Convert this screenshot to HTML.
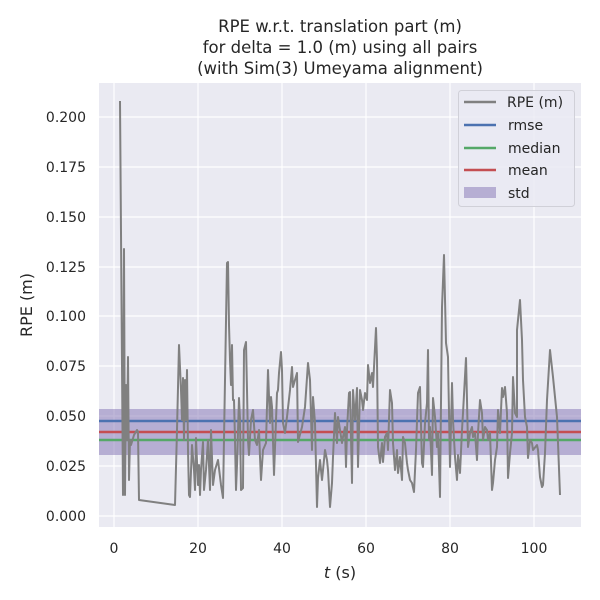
<!DOCTYPE html>
<html><head><meta charset="utf-8"><style>body{margin:0;background:#fff}svg{display:block;font-family:"DejaVu Sans","Liberation Sans",sans-serif}</style></head><body>
<svg width="600" height="600" viewBox="0 0 600 600">
<rect x="99" y="83" width="482" height="444" fill="#eaeaf2"/>
<g stroke="#fff" stroke-width="1.2">
<line x1="114" y1="83" x2="114" y2="527"/><line x1="198" y1="83" x2="198" y2="527"/><line x1="282" y1="83" x2="282" y2="527"/><line x1="366" y1="83" x2="366" y2="527"/><line x1="450" y1="83" x2="450" y2="527"/><line x1="534" y1="83" x2="534" y2="527"/>
<line x1="99" y1="117" x2="581" y2="117"/><line x1="99" y1="167" x2="581" y2="167"/><line x1="99" y1="217" x2="581" y2="217"/><line x1="99" y1="267" x2="581" y2="267"/><line x1="99" y1="316" x2="581" y2="316"/><line x1="99" y1="366" x2="581" y2="366"/><line x1="99" y1="416" x2="581" y2="416"/><line x1="99" y1="466" x2="581" y2="466"/><line x1="99" y1="516" x2="581" y2="516"/>
</g>
<rect x="99" y="409" width="482" height="46" fill="#8172b3" fill-opacity="0.5"/>
<line x1="99" y1="421" x2="581" y2="421" stroke="#4c72b0" stroke-width="2.5"/>
<line x1="99" y1="432" x2="581" y2="432" stroke="#c44e52" stroke-width="2.5"/>
<line x1="99" y1="440" x2="581" y2="440" stroke="#55a868" stroke-width="2.5"/>
<polyline fill="none" stroke="#808080" stroke-width="2" stroke-linejoin="round" points="120,101 123,495 124,249 125,495 126,385 127,440 128,357 129,480 130,440 131,445 134,435 137,430 138,432 139,500 175,505 177,430 179,345 181,390 182,420 183,378 184,440 185,380 186,420 187,370 188,450 189,495 190,497 192,445 194,470 195,490 196,438 198,485 199,465 200,495 201,470 203,442 204,490 206,470 208,440 210,490 211,430 213,485 215,470 218,460 221,485 223,498 225,380 227,263 228,262 229,325 230,360 231,385 232,345 233,400 234,400 235,440 236,490 237,465 239,398 240,420 241,490 243,488 244,350 246,342 247,390 248,440 249,455 251,420 253,410 255,440 257,445 259,430 260,457 261,480 263,450 266,443 268,370 270,423 271,397 272,407 274,475 277,393 278,390 279,373 281,352 282,370 283,423 285,433 287,417 290,390 292,367 293,387 297,373 298,442 302,427 305,407 308,363 310,380 312,450 313,397 315,423 317,507 318,478 320,460 322,480 323,470 325,450 327,460 328,470 330,507 332,483 333,457 335,413 337,443 338,417 340,430 342,443 343,437 345,427 346,467 347,430 349,393 350,392 352,483 353,390 355,420 357,388 358,467 360,390 362,400 363,410 365,393 367,400 368,365 370,383 372,373 373,387 376,328 377,360 378,447 380,463 382,443 383,462 385,437 387,433 388,450 390,390 392,403 393,443 395,470 397,450 398,473 400,457 402,480 403,437 405,443 407,463 408,470 410,480 412,483 414,492 416,450 418,393 420,387 422,463 423,467 425,423 427,403 428,350 429,440 430,427 432,475 433,398 435,417 437,447 438,433 440,497 442,307 444,255 446,343 448,357 450,467 452,383 453,420 455,457 457,480 458,455 460,473 462,430 463,413 466,358 467,400 468,447 470,433 472,427 473,437 475,433 477,460 478,433 480,400 482,413 483,440 485,427 487,430 488,440 490,433 492,490 493,483 495,460 497,447 498,410 500,433 502,388 503,397 505,387 507,413 508,478 510,453 512,433 513,377 515,413 517,417 517,330 520,300 522,340 523,380 525,417 527,427 528,458 530,440 532,443 533,450 537,445 538,450 540,477 542,487 543,485 545,453 547,400 550,350 553,377 557,417 560,495"/>
<g font-size="14" fill="#262626" text-anchor="end">
<text x="86" y="122">0.200</text><text x="86" y="172">0.175</text><text x="86" y="222">0.150</text><text x="86" y="272">0.125</text><text x="86" y="321">0.100</text><text x="86" y="371">0.075</text><text x="86" y="421">0.050</text><text x="86" y="471">0.025</text><text x="86" y="521">0.000</text>
</g>
<g font-size="14" fill="#262626" text-anchor="middle">
<text x="114" y="553">0</text><text x="198" y="553">20</text><text x="282" y="553">40</text><text x="366" y="553">60</text><text x="450" y="553">80</text><text x="534" y="553">100</text>
<text x="340" y="578" font-size="16"><tspan font-style="italic">t</tspan> (s)</text>
<text x="340" y="32" font-size="16.5">RPE w.r.t. translation part (m)</text>
<text x="340" y="53" font-size="16.5">for delta = 1.0 (m) using all pairs</text>
<text x="340" y="74" font-size="16.5">(with Sim(3) Umeyama alignment)</text>
</g>
<text transform="translate(32,305) rotate(-90)" font-size="16" fill="#262626" text-anchor="middle">RPE (m)</text>
<rect x="458.5" y="90.5" width="116" height="116" rx="3" fill="#eaeaf2" fill-opacity="0.8" stroke="#d0d0d8"/>
<g stroke-width="2.5"><line x1="464" y1="102" x2="496" y2="102" stroke="#808080"/><line x1="464" y1="125" x2="496" y2="125" stroke="#4c72b0"/><line x1="464" y1="148" x2="496" y2="148" stroke="#55a868"/><line x1="464" y1="170" x2="496" y2="170" stroke="#c44e52"/></g>
<rect x="464" y="187" width="32" height="11" fill="#8172b3" fill-opacity="0.5"/>
<g font-size="14" fill="#262626"><text x="507" y="107">RPE (m)</text><text x="508" y="130">rmse</text><text x="508" y="153">median</text><text x="508" y="175">mean</text><text x="508" y="198">std</text></g>
</svg>
</body></html>
